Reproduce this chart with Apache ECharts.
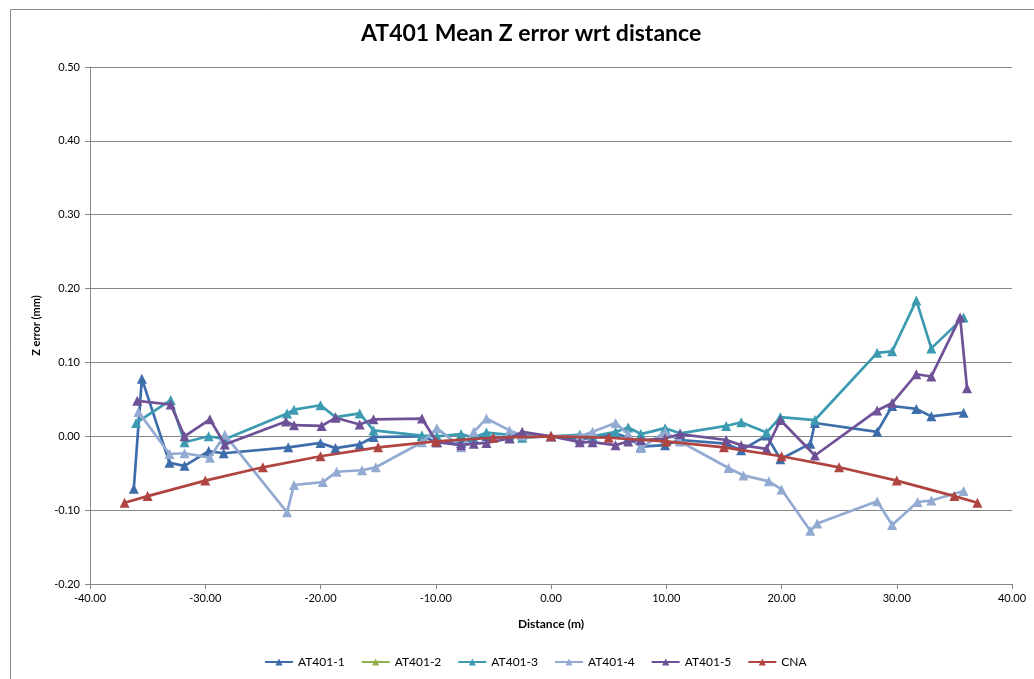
<!DOCTYPE html>
<html>
<head>
<meta charset="utf-8">
<script src="https://cdn.jsdelivr.net/npm/echarts@6/dist/echarts.min.js"></script>
<style>
html,body{margin:0;padding:0;background:#fff;}
#chart{width:1034px;height:679px;}
</style>
</head>
<body>
<div id="chart"></div>
<script>
const titleText = 'AT401 Mean Z error wrt distance';
const xAxisName = 'Distance (m)';
const yAxisName = 'Z error (mm)';
const seriesNames = ['AT401-1', 'AT401-2', 'AT401-3', 'AT401-4', 'AT401-5', 'CNA'];

const at401_1 = [
  [-36.2,-0.071],[-35.5,0.078],[-33.1,-0.036],[-31.8,-0.040],[-29.7,-0.020],[-28.4,-0.023],
  [-22.8,-0.015],[-20.0,-0.009],[-18.7,-0.016],[-16.6,-0.011],[-15.4,-0.001],[-11.2,0.000],
  [-9.9,-0.008],[-7.8,-0.009],[-6.7,-0.004],[-5.6,0.000],[-3.6,-0.002],[-2.5,0.002],[0,0],
  [2.5,-0.004],[3.6,-0.002],[5.6,0.004],[6.7,-0.002],[7.8,-0.014],[9.9,-0.012],[11.2,-0.005],
  [15.2,-0.010],[16.5,-0.019],[18.7,0.001],[19.9,-0.031],[22.5,-0.010],[22.9,0.018],
  [28.3,0.006],[29.6,0.041],[31.7,0.037],[33.0,0.027],[35.8,0.032]
];
const at401_2 = [];
const at401_3 = [
  [-36.0,0.018],[-33.0,0.049],[-31.8,-0.008],[-29.7,0.000],[-28.3,-0.004],[-22.9,0.031],
  [-22.3,0.036],[-20.0,0.042],[-18.7,0.026],[-16.6,0.031],[-15.4,0.008],[-11.2,0.001],
  [-9.9,0.000],[-7.8,0.003],[-6.7,-0.002],[-5.6,0.005],[-3.6,0.002],[-2.5,-0.002],[0,0],
  [2.5,0.002],[3.6,0.000],[5.6,0.006],[6.7,0.012],[7.8,0.003],[9.9,0.011],[11.2,0.004],
  [15.2,0.014],[16.5,0.019],[18.7,0.005],[19.9,0.026],[22.9,0.022],[28.3,0.113],
  [29.6,0.115],[31.7,0.184],[33.0,0.119],[35.8,0.161]
];
const at401_4 = [
  [-35.8,0.033],[-33.1,-0.024],[-31.8,-0.023],[-29.6,-0.029],[-28.3,0.002],[-22.9,-0.103],
  [-22.3,-0.066],[-19.8,-0.062],[-18.6,-0.048],[-16.4,-0.046],[-15.2,-0.042],[-11.2,-0.008],
  [-9.9,0.011],[-7.8,-0.015],[-6.7,0.006],[-5.6,0.024],[-3.6,0.008],[-2.5,0.001],[0,0],
  [2.5,0.000],[3.6,0.006],[5.6,0.018],[6.7,0.003],[7.8,-0.016],[9.9,0.006],[11.2,-0.007],
  [15.4,-0.043],[16.7,-0.053],[18.9,-0.061],[20.0,-0.072],[22.5,-0.128],[23.1,-0.118],
  [28.3,-0.088],[29.6,-0.120],[31.8,-0.089],[33.0,-0.087],[35.8,-0.074]
];
const at401_5 = [
  [-35.9,0.048],[-33.0,0.043],[-31.8,0.000],[-29.6,0.023],[-28.3,-0.011],[-23.0,0.020],
  [-22.3,0.015],[-19.9,0.014],[-18.7,0.025],[-16.6,0.016],[-15.4,0.023],[-11.2,0.024],
  [-9.9,-0.008],[-7.8,-0.012],[-6.7,-0.010],[-5.6,-0.009],[-3.6,-0.003],[-2.5,0.006],[0,0],
  [2.5,-0.008],[3.6,-0.008],[5.6,-0.012],[6.7,-0.007],[7.8,-0.005],[9.9,-0.003],[11.2,0.003],
  [15.2,-0.005],[16.5,-0.012],[18.7,-0.017],[19.9,0.022],[22.9,-0.026],[28.3,0.035],
  [29.6,0.045],[31.7,0.084],[33.0,0.081],[35.5,0.161],[36.1,0.065]
];
const cna = [
  [-37,-0.090],[-35,-0.081],[-30,-0.060],[-25,-0.042],[-20,-0.027],[-15,-0.015],[-10,-0.007],
  [-5,-0.002],[0,0],[5,-0.002],[10,-0.007],[15,-0.015],[20,-0.027],[25,-0.042],[30,-0.060],
  [35,-0.081],[37,-0.090]
];
const seriesData = [at401_1, at401_2, at401_3, at401_4, at401_5, cna];
const colors = ['#3D6DAA', '#8CB04A', '#3D9BB1', '#93AAD2', '#6E5196', '#AF4440'];

const FONT = 'Lato, "Liberation Sans", sans-serif';
const chart = echarts.init(document.getElementById('chart'), null, {renderer: 'canvas'});
chart.setOption({
  animation: false,
  backgroundColor: '#fff',
  color: colors,
  graphic: [{
    type: 'rect', left: 8, top: 7, silent: true,
    shape: {x: 0, y: 0, width: 1060, height: 700},
    style: {fill: 'none', stroke: '#8c8c8c', lineWidth: 1}
  }],
  title: {
    text: titleText, left: 356, top: 17,
    textStyle: {fontFamily: FONT, fontSize: 23, fontWeight: 'bold', color: '#000'}
  },
  legend: {
    data: seriesNames, bottom: 6, left: 259,
    itemWidth: 28, itemHeight: 9, itemGap: 16,
    textStyle: {fontFamily: FONT, fontSize: 12, color: '#000'}
  },
  grid: {left: 90, right: 22, top: 67, bottom: 95, containLabel: false},
  xAxis: {
    type: 'value', min: -40, max: 40, interval: 10,
    name: xAxisName, nameLocation: 'middle', nameGap: 34,
    nameTextStyle: {fontFamily: FONT, fontSize: 12, fontWeight: 'bold', color: '#000'},
    axisLine: {onZero: false, lineStyle: {color: '#868686'}},
    axisTick: {show: true, length: 5, lineStyle: {color: '#868686'}},
    axisLabel: {fontFamily: FONT, fontSize: 11, color: '#000', margin: 9, formatter: v => v.toFixed(2)},
    splitLine: {show: false}
  },
  yAxis: {
    type: 'value', min: -0.2, max: 0.5, interval: 0.1,
    name: yAxisName, nameLocation: 'middle', nameGap: 48, nameRotate: 90,
    nameTextStyle: {fontFamily: FONT, fontSize: 11, fontWeight: 'bold', color: '#000'},
    axisLine: {show: true, onZero: false, lineStyle: {color: '#868686'}},
    axisTick: {show: true, length: 5, lineStyle: {color: '#868686'}},
    axisLabel: {fontFamily: FONT, fontSize: 11, color: '#000', margin: 10, formatter: v => v.toFixed(2)},
    splitLine: {show: true, lineStyle: {color: '#868686', width: 1}}
  },
  series: seriesNames.map((n, i) => ({
    name: n, type: 'line', data: seriesData[i],
    symbol: 'triangle', symbolSize: 10, showSymbol: true,
    lineStyle: {width: 2.7, color: colors[i]},
    itemStyle: {color: colors[i]},
    z: 2 + i
  }))
});
</script>
</body>
</html>
